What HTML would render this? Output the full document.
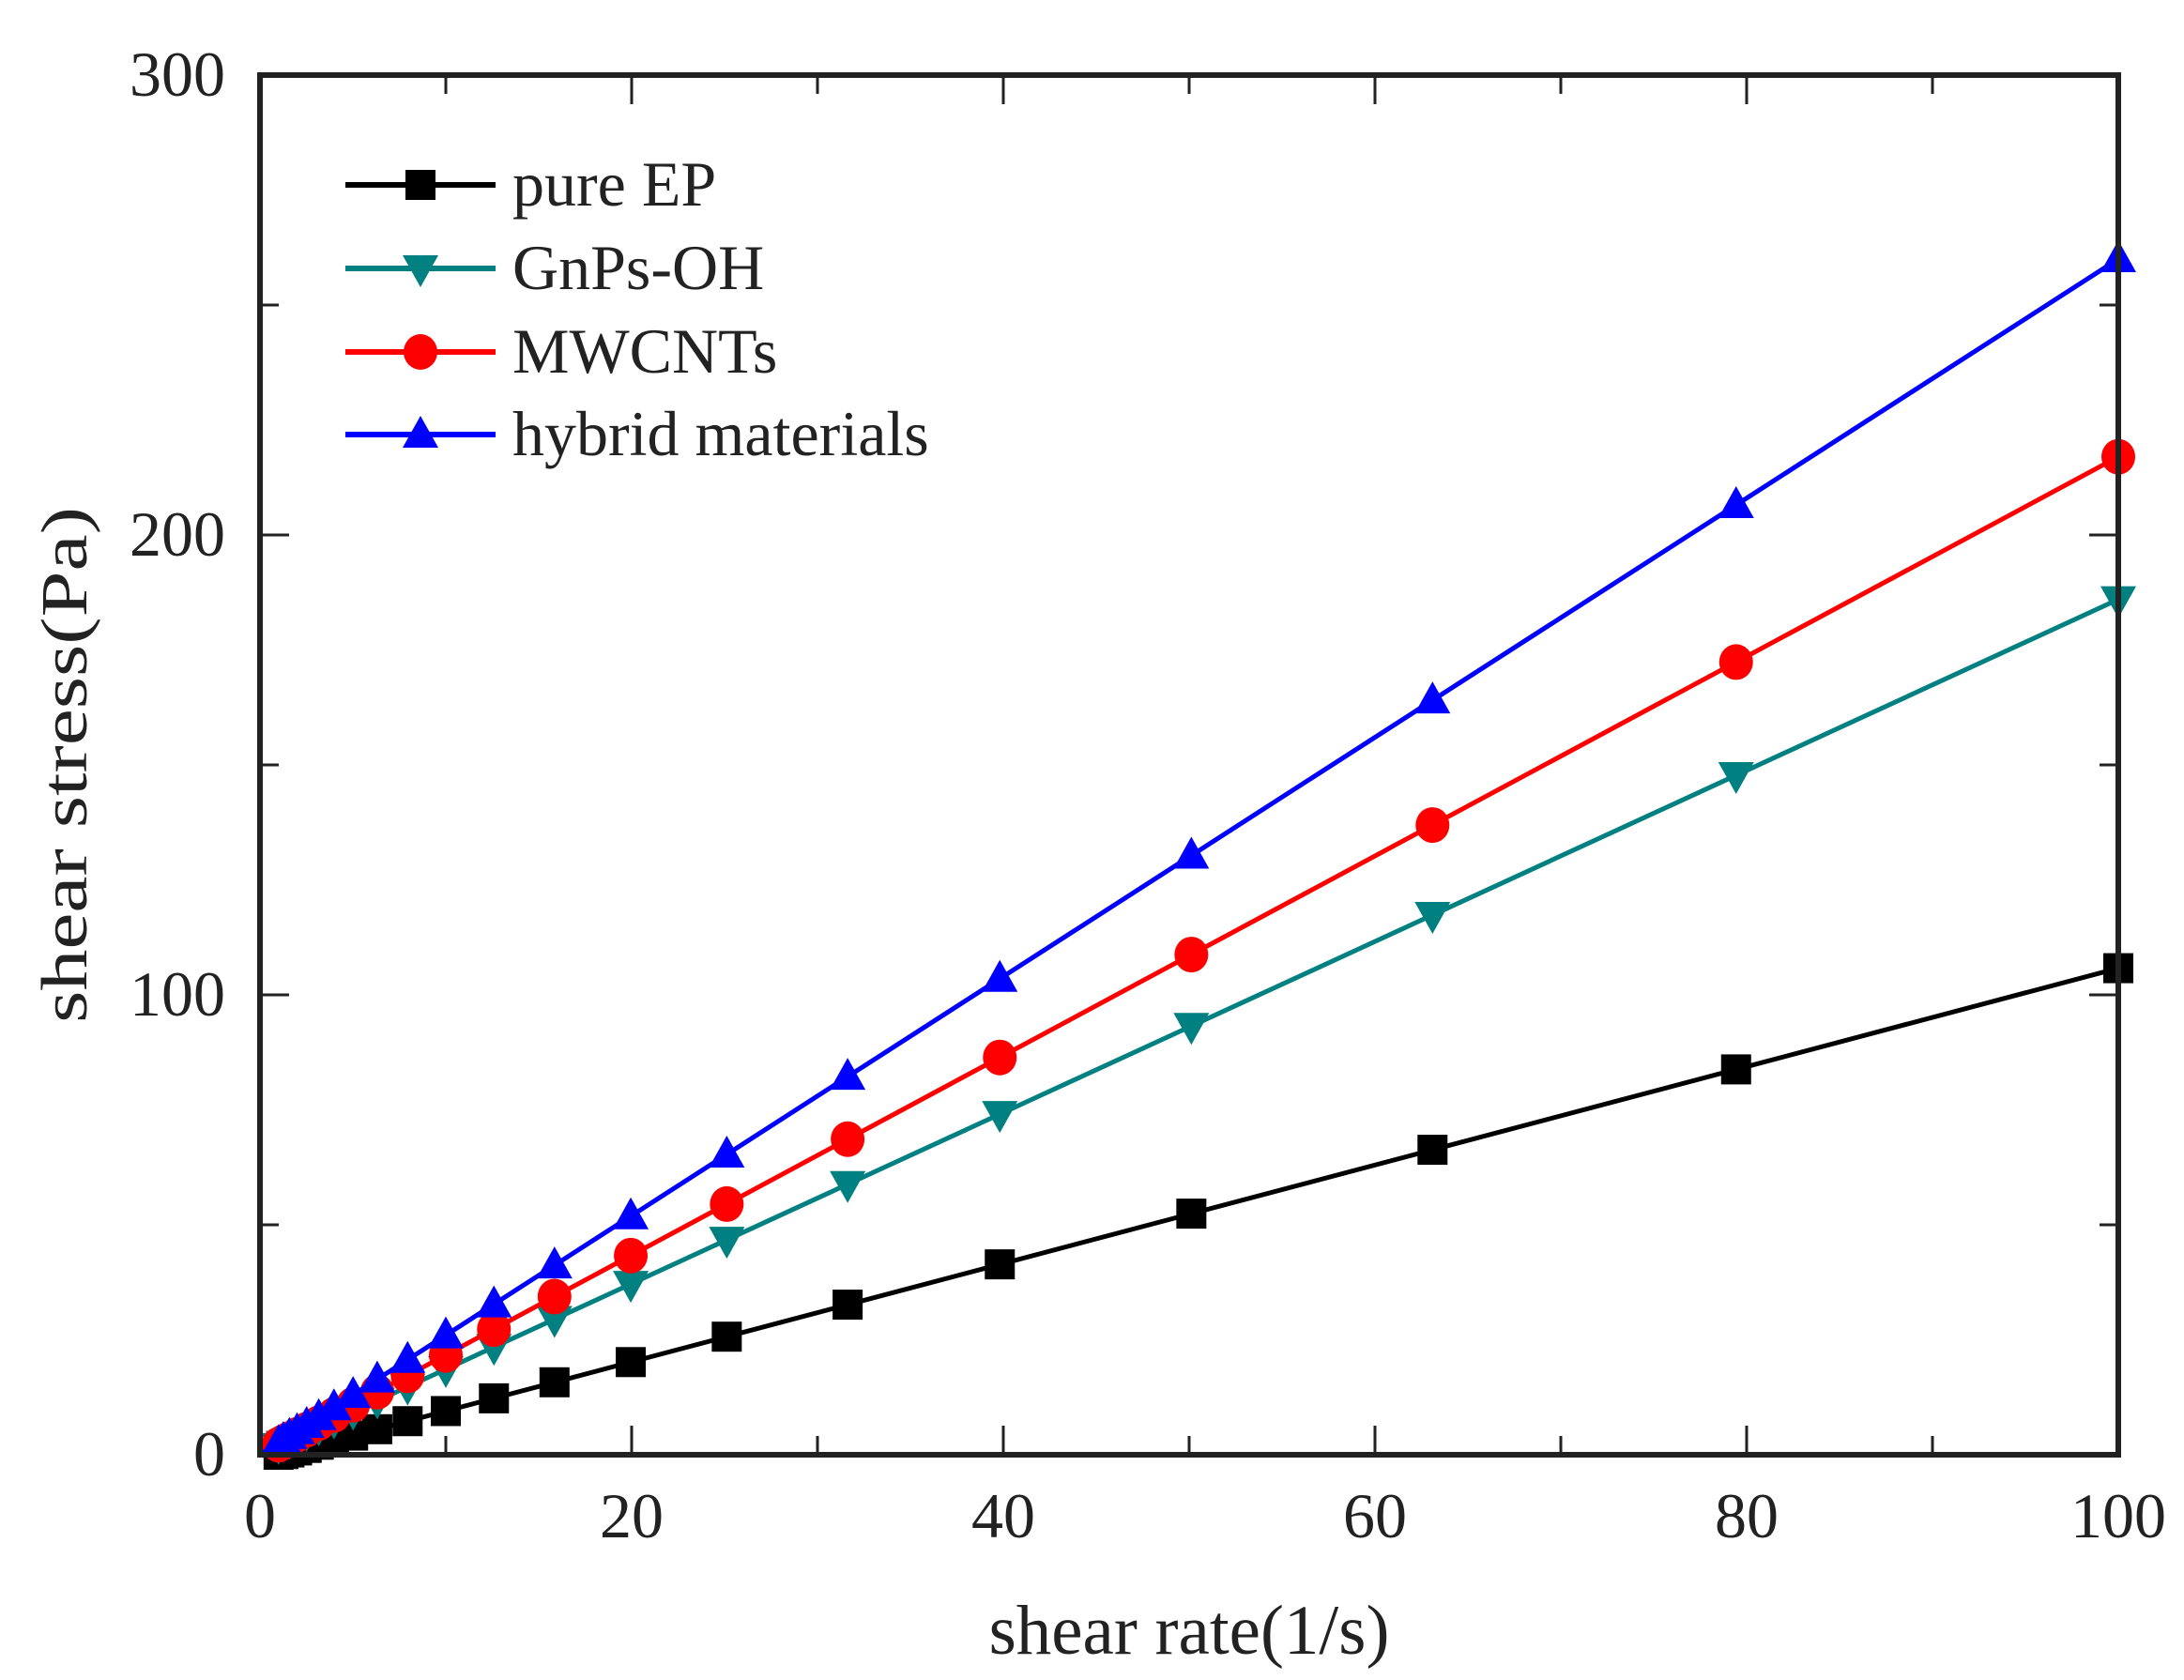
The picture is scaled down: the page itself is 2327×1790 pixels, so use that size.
<!DOCTYPE html>
<html><head><meta charset="utf-8">
<style>
html,body{margin:0;padding:0;background:#fff;}
svg{display:block;}
text{font-family:"Liberation Serif",serif;fill:#222;}
</style></head>
<body>
<svg id="s" width="2327" height="1790" xmlns="http://www.w3.org/2000/svg">
<rect width="2327" height="1790" fill="#fff"/>
<g id="ticks" stroke="#222" stroke-width="3"></g>
<g id="data"></g>
<rect x="277" y="80" width="1980" height="1470" fill="none" stroke="#222" stroke-width="6"/>
<g font-size="68" text-anchor="end">
<text x="240" y="102">300</text>
<text x="240" y="592">200</text>
<text x="240" y="1082">100</text>
<text x="240" y="1572">0</text>
</g>
<g font-size="68" text-anchor="middle">
<text x="277" y="1638">0</text>
<text x="673" y="1638">20</text>
<text x="1069" y="1638">40</text>
<text x="1465" y="1638">60</text>
<text x="1861" y="1638">80</text>
<text x="2257" y="1638">100</text>
</g>
<text x="1267" y="1762" font-size="75" text-anchor="middle">shear rate(1/s)</text>
<text transform="translate(92,815) rotate(-90) scale(1,0.8)" font-size="88" text-anchor="middle">shear stress(Pa)</text>
<g id="legend"></g>
<g font-size="68">
<text x="546" y="219">pure EP</text>
<text x="546" y="308">GnPs-OH</text>
<text x="546" y="397">MWCNTs</text>
<text x="546" y="485">hybrid materials</text>
</g>
</svg>
<script>
var NS="http://www.w3.org/2000/svg";
function el(p,t,a){var e=document.createElementNS(NS,t);for(var k in a)e.setAttribute(k,a[k]);p.appendChild(e);return e;}
var X=function(x){return 277+x*19.8;}, Y=function(y){return 1550-y*4.9;};
var tk=document.getElementById('ticks');
for(var i=0;i<=10;i++){var len=i%2?20:31;var x=X(i*10);el(tk,'line',{x1:x,y1:1550,x2:x,y2:1550-len});el(tk,'line',{x1:x,y1:80,x2:x,y2:80+len});}
for(var j=0;j<=6;j++){var len=j%2?20:31;var y=Y(j*50);el(tk,'line',{x1:277,y1:y,x2:277+len,y2:y});el(tk,'line',{x1:2257,y1:y,x2:2257-len,y2:y});}
var xs=[];for(var k=0;k<=20;k++)xs.push(Math.pow(10,k/10));
var series=[
 {c:'#000',f:function(x){return Math.max(0,1.07*x-1.2);},m:'sq'},
 {c:'#008080',f:function(x){return 1.86*x;},m:'dn'},
 {c:'#ff0000',f:function(x){return 2.17*x;},m:'ci'},
 {c:'#0000ff',f:function(x){return 2.6*x;},m:'up'}
];
function marker(g,m,c,x,y){
 if(m=='sq')el(g,'rect',{x:x-16,y:y-16,width:32,height:32,fill:c});
 else if(m=='ci')el(g,'ellipse',{cx:x,cy:y,rx:18,ry:19,fill:c});
 else if(m=='up')el(g,'polygon',{points:(x)+','+(y-20)+' '+(x-19)+','+(y+14)+' '+(x+19)+','+(y+14),fill:c});
 else el(g,'polygon',{points:(x)+','+(y+20)+' '+(x-19)+','+(y-14)+' '+(x+19)+','+(y-14),fill:c});}
var dg=document.getElementById('data');
series.forEach(function(s){var pts=[0].concat(xs).map(function(x){return X(x)+','+Y(s.f(x));}).join(' ');
 el(dg,'polyline',{points:pts,fill:'none',stroke:s.c,'stroke-width':5});
 xs.forEach(function(x){marker(dg,s.m,s.c,X(x),Y(s.f(x)));});});
var lg=document.getElementById('legend');var ly=[197,286,375,463];
series.forEach(function(s,i){el(lg,'line',{x1:368,y1:ly[i],x2:528,y2:ly[i],stroke:s.c,'stroke-width':6});marker(lg,s.m,s.c,448,ly[i]);});
</script>
</body></html>
